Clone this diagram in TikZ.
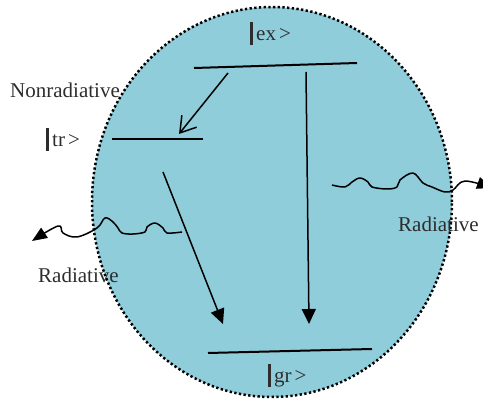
\documentclass[tikz,border=0pt]{standalone}
\usepackage{fontspec}
\setmainfont{Liberation Serif}
\usetikzlibrary{arrows.meta}
\definecolor{blasenblau}{RGB}{143,205,219}
\definecolor{schrift}{RGB}{45,45,45}
\newcommand{\ketstrich}{\rule[-4pt]{3pt}{23pt}\kern3pt}
\begin{document}
\begin{tikzpicture}[
      x=1pt, y=-1pt,
      font=\fontsize{21}{24}\selectfont,
      niveau/.style={line width=2pt},
      uebergang/.style={line width=1.5pt, -{Triangle[length=15pt, width=14pt]}},
      strahlung/.style={line width=1.5pt, line join=round, -{Triangle[length=15pt, width=12pt]}},
      marke/.style={anchor=base west, inner sep=0pt, text=schrift}
    ]
      \useasboundingbox (0,0) rectangle (483,401);
      \draw[fill=blasenblau, line width=2.5pt, dash pattern=on 2.3pt off 2.4pt] (272,202) ellipse [x radius=180pt, y radius=195pt];
      % Niveaus
      \coordinate (ex-l) at (194,68);
      \coordinate (ex-r) at (357,63);
      \coordinate (tr-l) at (112,139);
      \coordinate (tr-r) at (203,139);
      \coordinate (gr-l) at (208,353);
      \coordinate (gr-r) at (372,349);
      \draw[niveau] (ex-l) -- (ex-r);
      \draw[niveau] (tr-l) -- (tr-r);
      \draw[niveau] (gr-l) -- (gr-r);
      \node[marke] (ket-ex) at (250,41) {\ketstrich ex\kern3pt>};
      \node[marke] (ket-tr) at (46,147) {\ketstrich tr\kern3pt>};
      \node[marke] (ket-gr) at (268,383) {\ketstrich gr\kern3pt>};
      % Uebergaenge
      \coordinate (nr-a) at (228,73);
      \coordinate (nr-b) at (179,134);
      \coordinate (tg-a) at (163,172);
      \coordinate (tg-b) at (223,324);
      \coordinate (eg-a) at (306,72);
      \coordinate (eg-b) at (309,324);
      \draw[line width=1.5pt, -{Straight Barb[length=15pt, width=19pt]}] (nr-a) -- (nr-b);
      \draw[uebergang] (tg-a) -- (tg-b);
      \draw[uebergang] (eg-a) -- (eg-b);
      \node[marke] (nonrad) at (10,98) {Nonradiative};
      % Strahlung
      \draw[strahlung] plot[smooth, tension=0.6] coordinates {(182,232) (167,233) (163,228) (155,223) (147,227) (145,232) (133,234) (122,233) (118,228) (113,222) (105,218) (97,228) (77,237) (63,233) (58,226) (32,241)};
      \draw[strahlung] plot[smooth, tension=0.6] coordinates {(332,185) (345,187) (352,182) (360,178) (368,182) (372,187) (387,189) (397,187) (400,180) (413,173) (423,183) (432,187) (445,192) (453,190) (465,181) (492,188)};
      \node[marke] (rad-links) at (38,283) {Radiative};
      \node[marke] (rad-rechts) at (398,232) {Radiative};
    \end{tikzpicture}
\end{document}
